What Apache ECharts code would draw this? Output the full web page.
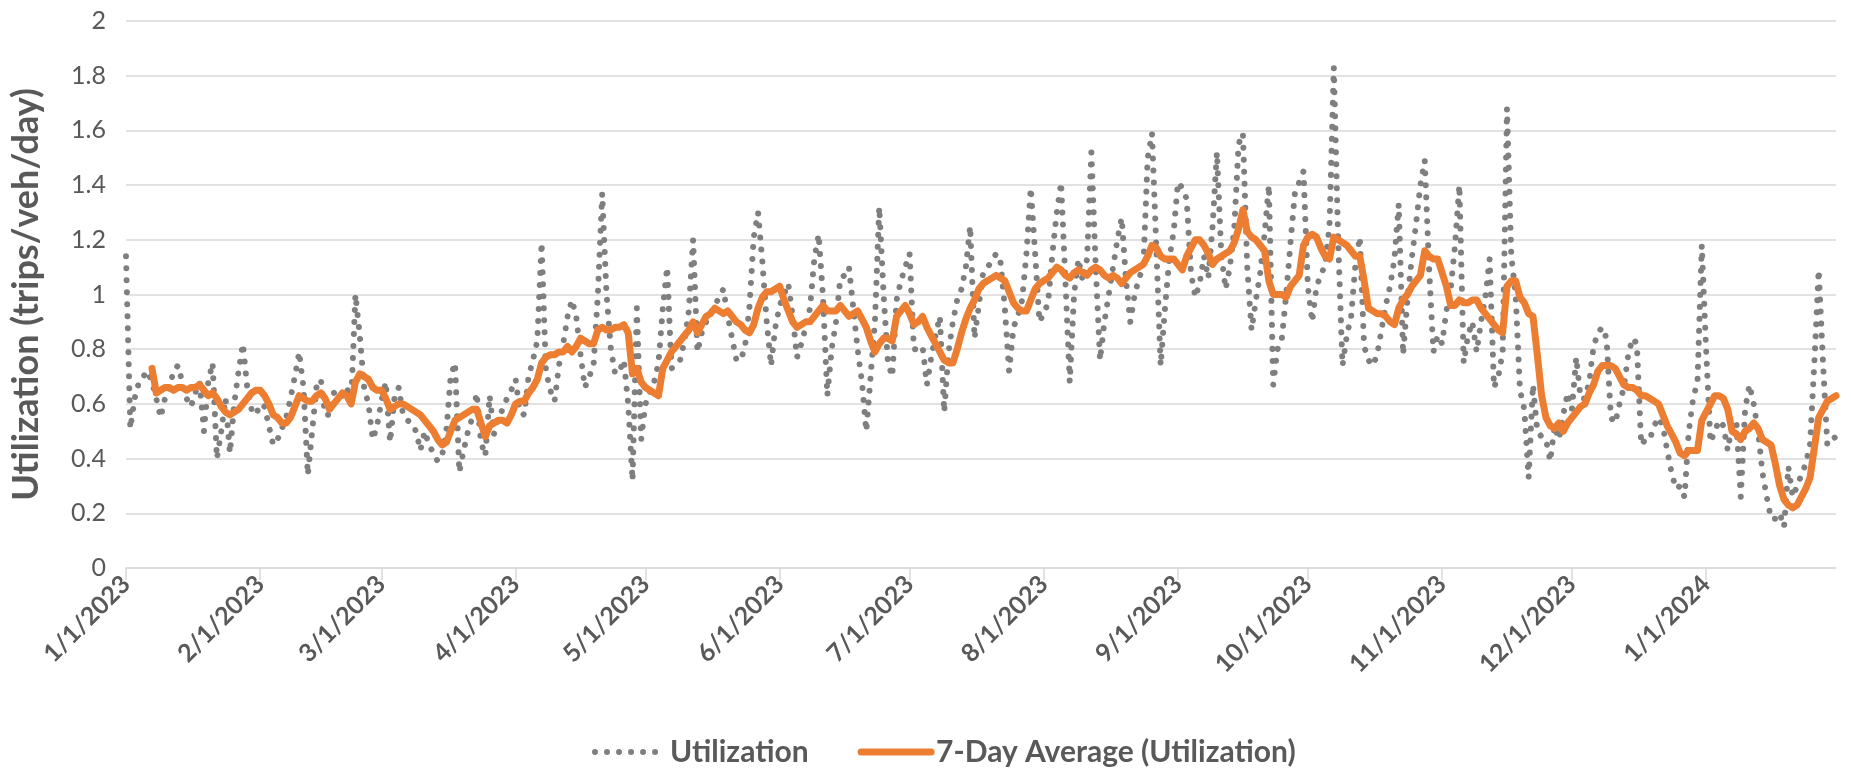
<!DOCTYPE html>
<html>
<head>
<meta charset="utf-8">
<script src="https://cdn.jsdelivr.net/npm/echarts@6/dist/echarts.min.js"></script>
<style>
  html, body { margin: 0; padding: 0; background: #fff; }
  #chart { width: 1851px; height: 776px; }
</style>
</head>
<body>
<div id="chart"></div>
<script>
// daily utilization, 1/1/2023 .. 1/31/2024
const utilization = [
  1.14, 0.51, 0.62, 0.68, 0.70, 0.72, 0.68, 0.62, 0.55, 0.62,
  0.66, 0.72, 0.74, 0.68, 0.62, 0.59, 0.64, 0.68, 0.50, 0.68,
  0.75, 0.40, 0.50, 0.62, 0.42, 0.60, 0.72, 0.82, 0.66, 0.58,
  0.56, 0.60, 0.59, 0.52, 0.45, 0.47, 0.51, 0.55, 0.62, 0.70,
  0.79, 0.66, 0.34, 0.50, 0.66, 0.69, 0.56, 0.56, 0.64, 0.65,
  0.63, 0.66, 0.60, 1.00, 0.85, 0.66, 0.60, 0.47, 0.52, 0.61,
  0.68, 0.46, 0.62, 0.66, 0.56, 0.54, 0.53, 0.50, 0.43, 0.50,
  0.45, 0.42, 0.39, 0.41, 0.50, 0.70, 0.75, 0.35, 0.43, 0.50,
  0.55, 0.64, 0.46, 0.41, 0.63, 0.49, 0.55, 0.58, 0.62, 0.65,
  0.69, 0.57, 0.56, 0.70, 0.76, 0.83, 1.19, 0.72, 0.65, 0.61,
  0.74, 0.82, 0.92, 0.98, 0.92, 0.78, 0.66, 0.70, 0.74, 1.00,
  1.37, 1.00, 0.80, 0.71, 0.72, 0.76, 0.60, 0.32, 0.95, 0.47,
  0.60, 0.64, 0.68, 0.75, 0.95, 1.10, 0.73, 0.74, 0.76, 0.83,
  0.94, 1.20, 0.79, 0.86, 0.90, 0.93, 0.96, 0.99, 1.02, 0.92,
  0.84, 0.76, 0.76, 0.81, 0.95, 1.21, 1.30, 1.12, 0.90, 0.74,
  0.88, 0.96, 1.00, 1.04, 0.92, 0.77, 0.82, 0.88, 0.95, 1.13,
  1.22, 0.99, 0.63, 0.80, 0.90, 1.06, 1.07, 1.10, 0.95, 0.80,
  0.68, 0.50, 0.70, 0.90, 1.32, 1.00, 0.75, 0.70, 0.98, 1.05,
  1.10, 1.15, 0.80, 0.80, 0.81, 0.67, 0.77, 0.85, 0.92, 0.57,
  0.79, 0.90, 0.98, 1.02, 1.10, 1.25, 0.84, 0.96, 1.08, 1.10,
  1.12, 1.15, 1.12, 0.95, 0.72, 0.88, 0.92, 0.98, 1.15, 1.39,
  1.15, 0.90, 0.93, 0.97, 1.15, 1.30, 1.41, 1.05, 0.68, 1.00,
  1.13, 1.05, 1.13, 1.52, 1.10, 0.76, 0.90, 1.00, 1.10, 1.20,
  1.28, 1.05, 0.90, 1.00, 1.06, 1.10, 1.50, 1.59, 1.17, 0.74,
  0.95, 1.13, 1.23, 1.41, 1.39, 1.35, 1.08, 0.99, 1.04, 1.14,
  1.06, 1.25, 1.52, 1.15, 1.02, 1.10, 1.24, 1.55, 1.59, 1.10,
  0.87, 0.98, 1.08, 1.22, 1.40, 0.67, 0.80, 0.84, 1.00, 1.19,
  1.37, 1.41, 1.45, 1.03, 0.90, 1.03, 1.07, 1.11, 1.25, 1.83,
  1.20, 0.74, 0.85, 0.92, 1.11, 1.21, 0.81, 0.76, 0.74, 0.78,
  0.87, 0.96, 1.03, 1.13, 1.33, 0.78, 0.98, 1.13, 1.26, 1.40,
  1.49, 1.10, 0.79, 0.85, 0.82, 0.94, 1.02, 1.18, 1.40, 0.75,
  0.85, 0.90, 0.79, 0.90, 0.99, 1.13, 0.66, 0.70, 0.79, 1.68,
  1.14, 1.00, 0.65, 0.58, 0.33, 0.67, 0.50, 0.48, 0.47, 0.39,
  0.52, 0.47, 0.56, 0.64, 0.58, 0.77, 0.62, 0.62, 0.68, 0.81,
  0.86, 0.88, 0.84, 0.55, 0.53, 0.60, 0.66, 0.78, 0.84, 0.82,
  0.45, 0.47, 0.47, 0.52, 0.55, 0.52, 0.43, 0.35, 0.29, 0.30,
  0.26, 0.50, 0.62, 0.68, 1.18, 0.80, 0.46, 0.50, 0.54, 0.52,
  0.43, 0.53, 0.53, 0.26, 0.58, 0.67, 0.60, 0.50, 0.35, 0.26,
  0.18, 0.18, 0.20, 0.15, 0.37, 0.26, 0.30, 0.34, 0.38, 0.45,
  0.75, 1.09, 0.75, 0.45, 0.47, 0.48
];

// 7-day average line as drawn (starts on day 7)
const avg7 = [
  null, null, null, null, null, null, 0.73, 0.64, 0.65, 0.66,
  0.66, 0.65, 0.66, 0.66, 0.65, 0.66, 0.66, 0.67, 0.65, 0.63,
  0.64, 0.62, 0.59, 0.57, 0.56, 0.57, 0.58, 0.60, 0.62, 0.64,
  0.65, 0.65, 0.63, 0.60, 0.56, 0.55, 0.53, 0.53, 0.55, 0.59,
  0.63, 0.62, 0.61, 0.61, 0.63, 0.64, 0.62, 0.58, 0.60, 0.62,
  0.64, 0.63, 0.60, 0.68, 0.71, 0.70, 0.69, 0.66, 0.65, 0.65,
  0.62, 0.58, 0.59, 0.60, 0.60, 0.59, 0.58, 0.57, 0.56, 0.54,
  0.52, 0.50, 0.47, 0.45, 0.46, 0.50, 0.54, 0.55, 0.56, 0.57,
  0.58, 0.58, 0.53, 0.48, 0.52, 0.53, 0.54, 0.54, 0.53, 0.56,
  0.60, 0.61, 0.61, 0.64, 0.66, 0.69, 0.75, 0.77, 0.78, 0.78,
  0.79, 0.79, 0.81, 0.79, 0.81, 0.84, 0.83, 0.82, 0.82, 0.87,
  0.88, 0.87, 0.87, 0.88, 0.88, 0.89, 0.86, 0.71, 0.73, 0.68,
  0.66, 0.65, 0.64, 0.63, 0.73, 0.76, 0.79, 0.81, 0.83, 0.85,
  0.87, 0.90, 0.86, 0.89, 0.92, 0.93, 0.95, 0.94, 0.93, 0.94,
  0.92, 0.90, 0.89, 0.87, 0.86, 0.89, 0.95, 0.99, 1.01, 1.01,
  1.02, 1.03, 0.98, 0.94, 0.90, 0.88, 0.89, 0.90, 0.90, 0.92,
  0.94, 0.96, 0.94, 0.94, 0.94, 0.96, 0.94, 0.92, 0.93, 0.94,
  0.91, 0.88, 0.83, 0.79, 0.82, 0.84, 0.84, 0.83, 0.92, 0.94,
  0.96, 0.93, 0.89, 0.90, 0.92, 0.88, 0.85, 0.82, 0.79, 0.76,
  0.75, 0.75, 0.80, 0.86, 0.91, 0.95, 0.98, 1.02, 1.04, 1.05,
  1.06, 1.07, 1.06, 1.05, 1.01, 0.97, 0.95, 0.94, 0.94, 0.98,
  1.02, 1.04, 1.05, 1.06, 1.08, 1.10, 1.09, 1.07, 1.06, 1.08,
  1.09, 1.08, 1.07, 1.09, 1.10, 1.09, 1.07, 1.06, 1.07, 1.06,
  1.04, 1.06, 1.08, 1.09, 1.10, 1.11, 1.14, 1.18, 1.17, 1.14,
  1.13, 1.13, 1.13, 1.11, 1.09, 1.14, 1.17, 1.20, 1.20, 1.18,
  1.15, 1.11, 1.13, 1.14, 1.15, 1.16, 1.19, 1.24, 1.31, 1.23,
  1.21, 1.20, 1.18, 1.16, 1.05, 1.00, 1.00, 1.00, 0.99, 1.03,
  1.05, 1.07, 1.18, 1.21, 1.22, 1.21, 1.17, 1.14, 1.13, 1.21,
  1.20, 1.19, 1.18, 1.16, 1.14, 1.14, 1.05, 0.95, 0.94, 0.93,
  0.93, 0.92, 0.90, 0.89, 0.95, 0.98, 1.00, 1.03, 1.05, 1.07,
  1.16, 1.14, 1.13, 1.13, 1.08, 1.03, 0.96, 0.96, 0.98, 0.97,
  0.97, 0.98, 0.98, 0.95, 0.93, 0.91, 0.89, 0.87, 0.86, 1.03,
  1.05, 1.05, 0.99, 0.97, 0.93, 0.92, 0.78, 0.63, 0.55, 0.52,
  0.51, 0.53, 0.50, 0.53, 0.55, 0.57, 0.59, 0.60, 0.64, 0.67,
  0.72, 0.74, 0.74, 0.74, 0.73, 0.70, 0.67, 0.66, 0.66, 0.65,
  0.63, 0.63, 0.62, 0.61, 0.60, 0.56, 0.52, 0.49, 0.46, 0.42,
  0.41, 0.43, 0.43, 0.43, 0.54, 0.57, 0.60, 0.63, 0.63, 0.62,
  0.58, 0.50, 0.49, 0.47, 0.50, 0.51, 0.53, 0.51, 0.47, 0.46,
  0.45, 0.38, 0.30, 0.25, 0.23, 0.22, 0.23, 0.26, 0.29, 0.33,
  0.44, 0.55, 0.58, 0.61, 0.62, 0.63
];

const seriesNames = ['Utilization', '7-Day Average (Utilization)'];
const yName = 'Utilization (trips/veh/day)';

// one category per day, labelled M/D/YYYY
const dates = [];
for (let i = 0; i < utilization.length; i++) {
  const d = new Date(2023, 0, 1 + i);
  dates.push((d.getMonth() + 1) + '/' + d.getDate() + '/' + d.getFullYear());
}
const isMonthStart = (idx, val) => val.split('/')[1] === '1';

const dotLine = { color: '#7F7F7F', width: 6, type: [0.01, 12], cap: 'round', join: 'round' };
const avgLine = { color: '#ED7D31', width: 7, cap: 'round', join: 'round' };

const chart = echarts.init(document.getElementById('chart'));
chart.setOption({
  animation: false,
  textStyle: { fontFamily: 'Lato, "Open Sans", sans-serif' },
  grid: { left: 124, right: 15, top: 21, bottom: 208 },
  legend: {
    data: [
      { name: seriesNames[0], lineStyle: dotLine },
      { name: seriesNames[1], lineStyle: avgLine }
    ],
    left: 587,
    top: 732,
    itemWidth: 70,
    itemHeight: 14,
    itemGap: 49,
    itemStyle: { opacity: 0 }, // hide the marker dot, keep the line sample
    textStyle: { fontSize: 30, fontWeight: 'bold', color: '#595959' }
  },
  xAxis: {
    type: 'category',
    data: dates,
    boundaryGap: false,
    axisLine: { lineStyle: { color: '#D9D9D9', width: 1.5 } },
    axisTick: { show: true, length: 12, interval: isMonthStart, lineStyle: { color: '#D9D9D9', width: 1.5 } },
    axisLabel: { interval: isMonthStart, rotate: 45, margin: 12, fontSize: 25, fontWeight: 'bold', color: '#595959' },
    splitLine: { show: false }
  },
  yAxis: {
    type: 'value',
    min: 0,
    max: 2,
    interval: 0.2,
    name: yName,
    nameLocation: 'middle',
    nameRotate: 90,
    nameGap: 82,
    nameTextStyle: { fontSize: 36, fontWeight: 'bold', color: '#595959' },
    axisLine: { show: false },
    axisTick: { show: false },
    axisLabel: { fontSize: 25, color: '#595959', margin: 20 },
    splitLine: { lineStyle: { color: '#D9D9D9', width: 1.5 } }
  },
  series: [
    {
      name: seriesNames[0],
      type: 'line',
      data: utilization,
      symbol: 'none',
      color: '#7F7F7F',
      lineStyle: dotLine
    },
    {
      name: seriesNames[1],
      type: 'line',
      data: avg7,
      symbol: 'none',
      color: '#ED7D31',
      lineStyle: avgLine
    }
  ]
});
</script>
</body>
</html>
